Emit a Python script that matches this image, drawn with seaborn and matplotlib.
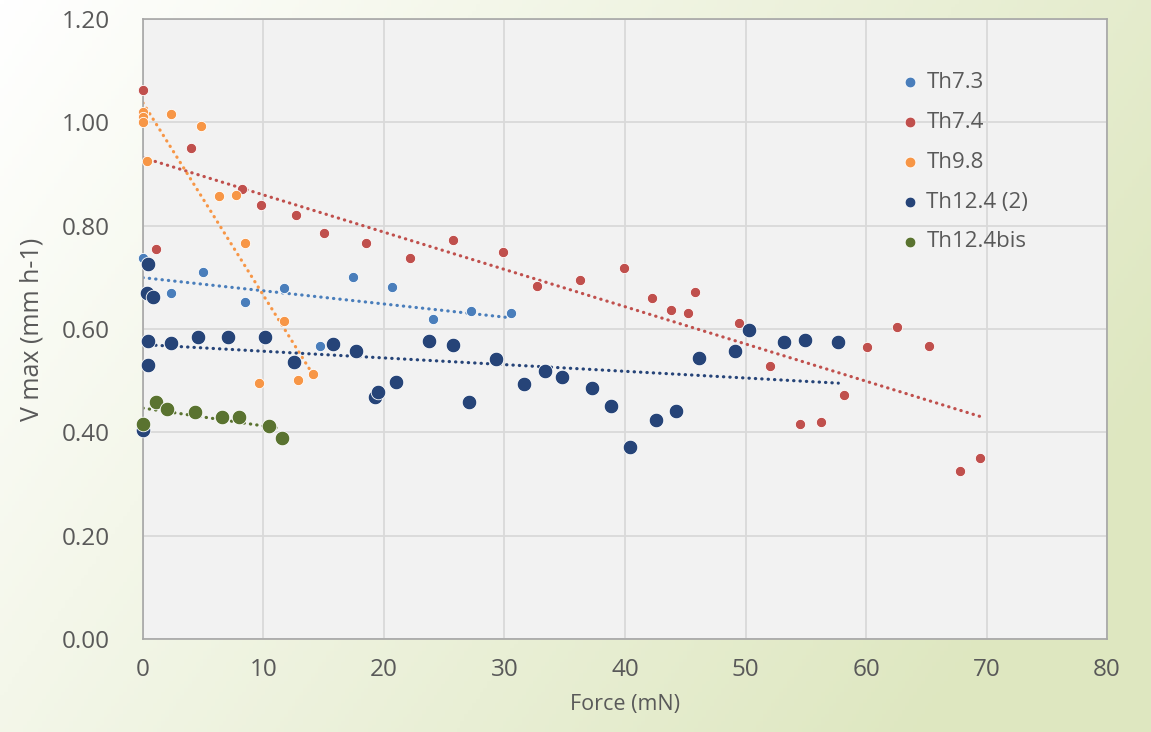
import numpy as np
import pandas as pd
import matplotlib
matplotlib.use('Agg')
import matplotlib.pyplot as plt
import seaborn as sns

# data
th73_x = [0.0, 2.3, 5.0, 8.5, 11.7, 14.7, 17.4, 20.7, 24.1, 27.2, 30.5]
th73_y = [0.737, 0.670, 0.710, 0.652, 0.679, 0.567, 0.700, 0.681, 0.619, 0.635, 0.631]

th74_x = [0.0, 1.1, 4.0, 8.2, 9.8, 12.7, 15.0, 18.5, 22.2, 25.7, 29.9, 32.7, 36.3,
          39.9, 42.2, 43.8, 45.2, 45.8, 49.5, 52.0, 54.5, 56.3, 58.2, 60.1, 62.6,
          65.2, 67.8, 69.5]
th74_y = [1.062, 0.755, 0.951, 0.871, 0.841, 0.820, 0.786, 0.766, 0.737, 0.773,
          0.750, 0.683, 0.695, 0.718, 0.661, 0.636, 0.632, 0.672, 0.611, 0.529,
          0.416, 0.421, 0.472, 0.566, 0.604, 0.567, 0.325, 0.350]

th98_x = [0.0, 0.0, 0.0, 0.36, 2.3, 4.8, 6.3, 7.7, 8.5, 9.65, 11.7, 12.9, 14.1]
th98_y = [1.020, 1.010, 1.000, 0.926, 1.017, 0.992, 0.857, 0.859, 0.767, 0.495,
          0.615, 0.501, 0.513]

th124_x = [0.0, 0.44, 0.36, 0.85, 0.44, 0.44, 2.3, 4.56, 7.05, 10.1, 12.5, 15.8,
           17.7, 19.25, 19.5, 21.0, 23.7, 25.75, 27.05, 29.3, 31.6, 33.4, 34.8,
           37.3, 38.8, 40.4, 42.6, 44.2, 46.1, 49.1, 50.3, 53.2, 54.9, 57.7]
th124_y = [0.404, 0.726, 0.670, 0.662, 0.577, 0.530, 0.573, 0.585, 0.584, 0.584,
           0.536, 0.572, 0.558, 0.469, 0.479, 0.497, 0.577, 0.570, 0.459, 0.542,
           0.494, 0.519, 0.508, 0.485, 0.452, 0.372, 0.423, 0.441, 0.544, 0.558,
           0.599, 0.574, 0.578, 0.574]

th124bis_x = [0.0, 1.1, 1.97, 4.3, 6.6, 8.0, 10.5, 11.5]
th124bis_y = [0.417, 0.459, 0.446, 0.440, 0.430, 0.430, 0.413, 0.389]

series = ['Th7.3', 'Th7.4', 'Th9.8', 'Th12.4 (2)', 'Th12.4bis']
colors = ['#4A7EBB', '#C0504D', '#F79646', '#264478', '#5A7330']
sizes = [55, 55, 55, 110, 110]

frames = []
for name, xs, ys in zip(series,
                        [th73_x, th74_x, th98_x, th124_x, th124bis_x],
                        [th73_y, th74_y, th98_y, th124_y, th124bis_y]):
    frames.append(pd.DataFrame({'Force': xs, 'Vmax': ys, 'series': name}))
df = pd.concat(frames, ignore_index=True)

sns.set_style('white')
plt.rcParams['font.family'] = ['Open Sans', 'DejaVu Sans']
text_col = '#595959'

fig = plt.figure(figsize=(11.51, 7.32), dpi=100)

# gradient background
bg = fig.add_axes([0, 0, 1, 1], zorder=-10)
gx, gy = np.meshgrid(np.linspace(0, 1, 300), np.linspace(0, 1, 200))
t = np.clip(0.8 * gx + 0.35 * gy, 0, 1)[..., None]
c0 = np.array([1.0, 1.0, 1.0])
c1 = np.array([222, 231, 192]) / 255
img = c0 * (1 - t) + c1 * t
bg.imshow(img, aspect='auto', extent=[0, 1, 0, 1], origin='upper')
bg.axis('off')

ax = fig.add_axes([0.1242, 0.127, 0.8376, 0.847])
ax.set_facecolor('#F2F2F2')

for name, col, s in zip(series, colors, sizes):
    sub = df[df['series'] == name]
    sns.regplot(data=sub, x='Force', y='Vmax', ax=ax, scatter=False, ci=None,
                truncate=True, color=col,
                line_kws=dict(linestyle=(0, (0.1, 1.9)), linewidth=2.3,
                              dash_capstyle='round', zorder=2))
    sns.scatterplot(data=sub, x='Force', y='Vmax', ax=ax, color=col, s=s,
                    edgecolor='white', linewidth=0.6, label=name, zorder=3,
                    clip_on=False)

ax.set_xlim(0, 80)
ax.set_ylim(0, 1.2)
ax.set_xticks(np.arange(0, 81, 10))
ax.set_yticks(np.arange(0, 1.21, 0.2))
ax.set_yticklabels([f'{v:.2f}' for v in np.arange(0, 1.21, 0.2)])
ax.grid(True, color='#D9D9D9', linewidth=1.3)
ax.set_axisbelow(True)
for sp in ax.spines.values():
    sp.set_color('#A6A6A6')
    sp.set_linewidth(1.2)
ax.tick_params(axis='both', length=0, labelsize=17.5, labelcolor=text_col)
ax.tick_params(axis='y', pad=24)
ax.tick_params(axis='x', pad=14)
ax.set_xlabel('Force (mN)', fontsize=15.5, color=text_col, labelpad=8)
ax.set_ylabel('V max (mm h-1)', fontsize=18, color=text_col, labelpad=12)

leg = ax.legend(loc='upper left', bbox_to_anchor=(0.763, 0.947), frameon=False,
                fontsize=16, labelspacing=0.85, handlelength=1.0,
                handletextpad=0.25)
for h in leg.legend_handles:
    h.set_sizes([60])
for txt in leg.get_texts():
    txt.set_color(text_col)

fig.savefig('out.png', dpi=100)
